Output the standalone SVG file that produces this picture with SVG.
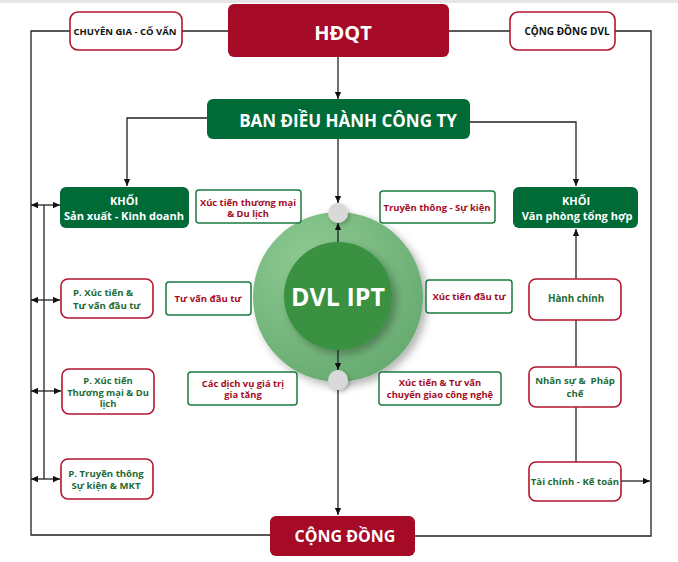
<svg xmlns="http://www.w3.org/2000/svg" width="678" height="562" viewBox="0 0 678 562">
<style>
text{font-family:"Open Sans","Noto Sans","Liberation Sans",sans-serif;font-weight:700;text-anchor:middle;dominant-baseline:central}
.red{fill:#A50A26}
.grn{fill:#006B36}
.wb-r{fill:#fff;stroke:#B3152F;stroke-width:1.6}
.wb-g{fill:#fff;stroke:#1B7A3F;stroke-width:1.5}
.tw{fill:#fff}
.tr{fill:#A50A26}
.tg{fill:#1C6B35}
.tk{fill:#111}
.ln{fill:none;stroke:#222;stroke-width:1.3}
</style>
<defs>
<marker id="ah" viewBox="0 0 10 10" refX="10" refY="5" markerUnits="userSpaceOnUse" markerWidth="7" markerHeight="7" orient="auto-start-reverse">
<path d="M0,0.5 L10,5 L0,9.5 z" fill="#111"/>
</marker>
<radialGradient id="og" cx="0.35" cy="0.3" r="0.8">
<stop offset="0" stop-color="#8FCB93"/>
<stop offset="1" stop-color="#64A96E"/>
</radialGradient>
<filter id="sh" x="-30%" y="-30%" width="160%" height="160%">
<feDropShadow dx="4" dy="4" stdDeviation="4" flood-color="#000" flood-opacity="0.3"/>
</filter>
<filter id="sh2" x="-50%" y="-50%" width="200%" height="200%">
<feDropShadow dx="2" dy="2" stdDeviation="2" flood-color="#000" flood-opacity="0.25"/>
</filter>
</defs>
<rect width="678" height="562" fill="#fff"/>
<rect width="678" height="3" fill="#e6e6e6"/>

<g id="dvl-ipt">
<circle cx="338" cy="297" r="85" fill="url(#og)" filter="url(#sh)"/>
<circle cx="338" cy="296" r="54" fill="#3A9142" filter="url(#sh)"/>
<text x="338" y="296" class="tw" font-size="25">DVL IPT</text>
</g>

<g id="connectors">
<polyline class="ln" points="70,31 31,31 31,535 270,535"/>
<line class="ln" x1="182" y1="31" x2="228" y2="31"/>
<line class="ln" x1="449" y1="31" x2="510" y2="31"/>
<polyline class="ln" points="615,31 651,31 651,536 415,536"/>
<line class="ln" x1="338" y1="57" x2="338" y2="99" marker-end="url(#ah)"/>
<polyline class="ln" points="207,118 127,118 127,186" marker-end="url(#ah)"/>
<polyline class="ln" points="470,122 576,122 576,186" marker-end="url(#ah)"/>
<line class="ln" x1="338" y1="139" x2="338" y2="203" marker-end="url(#ah)"/>
<line class="ln" x1="338" y1="242" x2="338" y2="223" marker-end="url(#ah)"/>
<line class="ln" x1="338" y1="350" x2="338" y2="370" marker-end="url(#ah)"/>
<line class="ln" x1="338" y1="390" x2="338" y2="515" marker-end="url(#ah)"/>
<line class="ln" x1="44" y1="205" x2="44" y2="479"/>
<line class="ln" x1="31" y1="205" x2="60" y2="205" marker-start="url(#ah)" marker-end="url(#ah)"/>
<line class="ln" x1="31" y1="300" x2="60" y2="300" marker-start="url(#ah)" marker-end="url(#ah)"/>
<line class="ln" x1="31" y1="391" x2="61" y2="391" marker-start="url(#ah)" marker-end="url(#ah)"/>
<line class="ln" x1="31" y1="479" x2="60" y2="479" marker-start="url(#ah)" marker-end="url(#ah)"/>
<line class="ln" x1="576" y1="462" x2="576" y2="229" marker-end="url(#ah)"/>
<line class="ln" x1="621" y1="481" x2="650" y2="481" marker-end="url(#ah)"/>
</g>

<g id="hub-top"><circle cx="338" cy="213" r="10" fill="#D9D9D9" filter="url(#sh2)"/></g>
<g id="hub-bottom"><circle cx="338" cy="380" r="10" fill="#D9D9D9" filter="url(#sh2)"/></g>

<g id="hdqt">
<rect x="228" y="4" width="221" height="53" rx="6" class="red"/>
<text x="343" y="32" class="tw" font-size="20">HĐQT</text>
</g>
<g id="chuyen-gia">
<rect x="70" y="12" width="112" height="38" rx="8" class="wb-r"/>
<text x="125" y="31" class="tk" font-size="9.5">CHUYÊN GIA - CỐ VẤN</text>
</g>
<g id="cong-dong-dvl">
<rect x="510" y="12" width="105" height="38" rx="8" class="wb-r"/>
<text x="567" y="31" class="tk" font-size="10">CỘNG ĐỒNG DVL</text>
</g>
<g id="ban-dieu-hanh">
<rect x="207" y="99" width="263" height="40" rx="6" class="grn"/>
<text x="348" y="120" class="tw" font-size="17">BAN ĐIỀU HÀNH CÔNG TY</text>
</g>

<g id="khoi-sxkd">
<rect x="60" y="187" width="129" height="41" rx="6" class="grn"/>
<text x="124" y="200" class="tw" font-size="11">KHỐI</text>
<text x="124" y="215" class="tw" font-size="11">Sản xuất - Kinh doanh</text>
</g>
<g id="p-xuc-tien-tu-van">
<rect x="61" y="279" width="92" height="39" rx="7" class="wb-r"/>
<text x="73" y="292.5" class="tg" font-size="9.6" style="text-anchor:start">P. Xúc tiến &amp;</text>
<text x="73" y="305" class="tg" font-size="9.6" style="text-anchor:start">Tư vấn đầu tư</text>
</g>
<g id="p-xuc-tien-tm-dl">
<rect x="62" y="369" width="92" height="45" rx="7" class="wb-r"/>
<text x="108" y="380.5" class="tg" font-size="9.4">P. Xúc tiến</text>
<text x="108" y="392" class="tg" font-size="9.4">Thương mại &amp; Du</text>
<text x="108" y="403.5" class="tg" font-size="9.4">lịch</text>
</g>
<g id="p-truyen-thong">
<rect x="61" y="459" width="92" height="40" rx="7" class="wb-r"/>
<text x="106" y="473" class="tg" font-size="9.6">P. Truyền thông</text>
<text x="106" y="485" class="tg" font-size="9.6">Sự kiện &amp; MKT</text>
</g>

<g id="lbl-xttm-dl">
<rect x="196" y="190" width="105" height="33" rx="3" class="wb-g"/>
<text x="248" y="202" class="tr" font-size="9.4">Xúc tiến thương mại</text>
<text x="248" y="213.5" class="tr" font-size="9.4">&amp; Du lịch</text>
</g>
<g id="lbl-tu-van">
<rect x="166" y="282" width="85" height="33" rx="3" class="wb-g"/>
<text x="208" y="298" class="tr" font-size="9.5">Tư vấn đầu tư</text>
</g>
<g id="lbl-dich-vu">
<rect x="188" y="372" width="109" height="33" rx="3" class="wb-g"/>
<text x="243" y="383" class="tr" font-size="9.4">Các dịch vụ giá trị</text>
<text x="243" y="394.5" class="tr" font-size="9.4">gia tăng</text>
</g>
<g id="lbl-truyen-thong">
<rect x="380" y="191" width="115" height="32" rx="3" class="wb-g"/>
<text x="437" y="207" class="tr" font-size="9.5">Truyền thông - Sự kiện</text>
</g>
<g id="lbl-xt-dau-tu">
<rect x="426" y="280" width="86" height="33" rx="3" class="wb-g"/>
<text x="469" y="296" class="tr" font-size="9.5">Xúc tiến đầu tư</text>
</g>
<g id="lbl-chuyen-giao">
<rect x="379" y="372" width="122" height="33" rx="3" class="wb-g"/>
<text x="440" y="382.5" class="tr" font-size="9.4">Xúc tiến &amp; Tư vấn</text>
<text x="440" y="394" class="tr" font-size="9.4">chuyển giao công nghệ</text>
</g>

<g id="khoi-vpth">
<rect x="513" y="187" width="125" height="41" rx="6" class="grn"/>
<text x="576" y="200" class="tw" font-size="11">KHỐI</text>
<text x="577" y="215" class="tw" font-size="11">Văn phòng tổng hợp</text>
</g>
<g id="hanh-chinh">
<rect x="529" y="279" width="92" height="41" rx="7" class="wb-r"/>
<text x="576" y="298" class="tg" font-size="9.8">Hành chính</text>
</g>
<g id="nhan-su">
<rect x="529" y="367" width="92" height="40" rx="7" class="wb-r"/>
<text x="575" y="380.5" class="tg" font-size="9.6" xml:space="preserve">Nhân sự &amp;  Pháp</text>
<text x="575" y="393" class="tg" font-size="9.6">chế</text>
</g>
<g id="tai-chinh">
<rect x="529" y="462" width="92" height="39" rx="7" class="wb-r"/>
<text x="575" y="481" class="tg" font-size="9.6">Tài chính - Kế toán</text>
</g>

<g id="cong-dong">
<rect x="270" y="516" width="145" height="40" rx="6" class="red"/>
<text x="345" y="536" class="tw" font-size="16">CỘNG ĐỒNG</text>
</g>
</svg>
